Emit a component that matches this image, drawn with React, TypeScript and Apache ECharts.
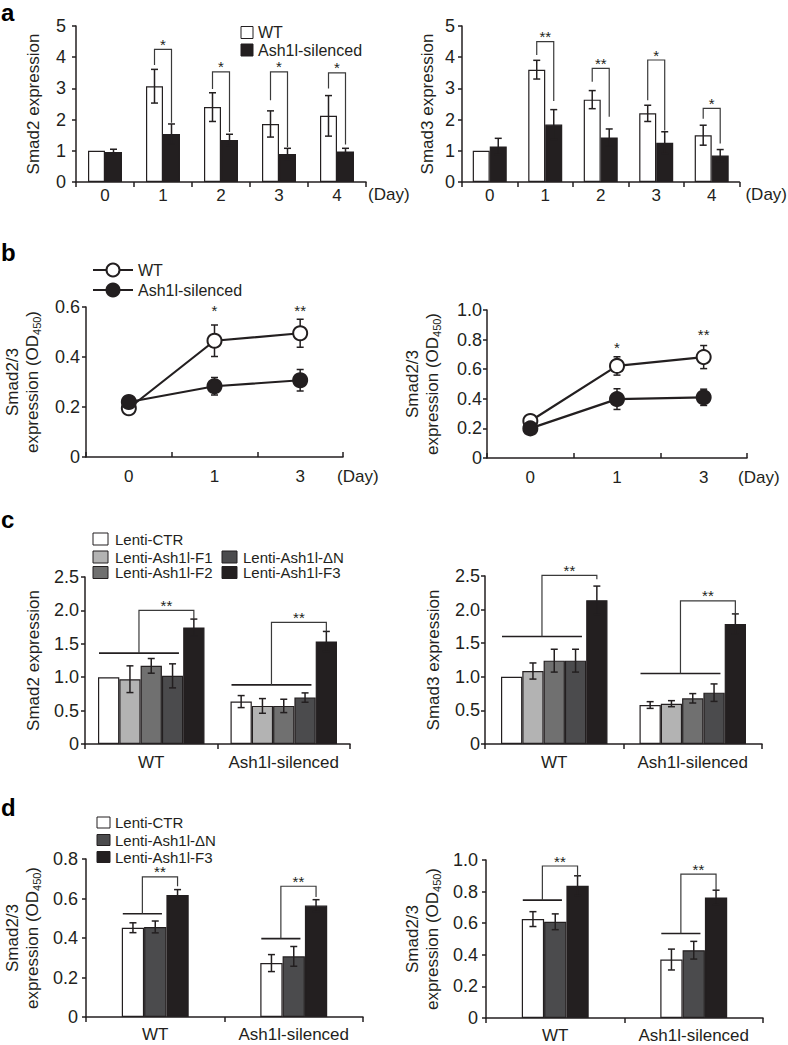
import React, { useEffect, useRef } from "react";
import * as echarts from "echarts";

const FONT = "'Liberation Sans', Arial, Helvetica, sans-serif";
const INK = "#231f20";

// ---------- Panel a ----------
const dayCats = ["0", "1", "2", "3", "4"];
const aGroups = ["WT", "Ash1l-silenced"];
const aColors = ["#ffffff", INK];
const smad2WT = [1.0, 3.07, 2.4, 1.86, 2.12];
const smad2WTErr = [0, 0.54, 0.46, 0.42, 0.65];
const smad2Sil = [0.96, 1.54, 1.35, 0.9, 0.98];
const smad2SilErr = [0.09, 0.32, 0.18, 0.18, 0.1];
// [day index, bracket top, left leg end, right leg end]
const smad2Sig = [
  [1, 4.25, 3.75, 1.9],
  [2, 3.53, 2.98, 1.6],
  [3, 3.53, 2.62, 1.12],
  [4, 3.5, 3.0, 1.2],
];
const smad2Stars = ["*", "*", "*", "*"];

const smad3WT = [1.0, 3.6, 2.64, 2.2, 1.5];
const smad3WTErr = [0, 0.3, 0.29, 0.26, 0.32];
const smad3Sil = [1.14, 1.84, 1.43, 1.26, 0.85];
const smad3SilErr = [0.26, 0.48, 0.27, 0.35, 0.19];
const smad3Sig = [
  [1, 4.5, 4.07, 2.6],
  [2, 3.64, 3.21, 2.09],
  [3, 3.91, 2.62, 1.65],
  [4, 2.36, 2.03, 1.23],
];
const smad3Stars = ["**", "**", "*", "*"];

// ---------- Panel b ----------
const bCats = ["0", "1", "3"];
const bLeftWT = [0.195, 0.465, 0.495];
const bLeftWTErr = [0, 0.063, 0.056];
const bLeftSil = [0.22, 0.283, 0.307];
const bLeftSilErr = [0, 0.035, 0.043];
const bLeftStarPos = [
  [1, 0.585],
  [2, 0.585],
];
const bLeftStars = ["*", "**"];
const bRightWT = [0.25, 0.622, 0.682];
const bRightWTErr = [0, 0.062, 0.078];
const bRightSil = [0.2, 0.398, 0.41];
const bRightSilErr = [0, 0.07, 0.055];
const bRightStarPos = [
  [1, 0.75],
  [2, 0.835],
];
const bRightStars = ["*", "**"];

// ---------- Panel c ----------
const groupCats = ["WT", "Ash1l-silenced"];
const cNames = ["Lenti-CTR", "Lenti-Ash1l-F1", "Lenti-Ash1l-F2", "Lenti-Ash1l-ΔN", "Lenti-Ash1l-F3"];
const cColors = ["#ffffff", "#b3b3b3", "#707070", "#4b4b4d", INK];
// each row: one construct, values for [WT, Ash1l-silenced]
const cSmad2 = [
  [1.0, 0.635],
  [0.97, 0.57],
  [1.17, 0.57],
  [1.02, 0.695],
  [1.745, 1.535],
];
const cSmad2Err = [
  [0, 0.09],
  [0.2, 0.11],
  [0.11, 0.1],
  [0.18, 0.07],
  [0.125, 0.15],
];
// [group index, control line, bracket top, right leg end]
const cSmad2Sig = [
  [0, 1.36, 2.0, 1.87],
  [1, 0.885, 1.82, 1.685],
];
const cSmad3 = [
  [1.0, 0.58],
  [1.086, 0.6],
  [1.24, 0.68],
  [1.24, 0.764],
  [2.14, 1.786],
];
const cSmad3Err = [
  [0, 0.05],
  [0.12, 0.045],
  [0.17, 0.07],
  [0.17, 0.13],
  [0.21, 0.15],
];
const cSmad3Sig = [
  [0, 1.6, 2.51, 2.45],
  [1, 1.05, 2.13, 1.93],
];
const cStars = ["**", "**"];

// ---------- Panel d ----------
const dNames = ["Lenti-CTR", "Lenti-Ash1l-ΔN", "Lenti-Ash1l-F3"];
const dColors = ["#ffffff", "#4b4b4d", INK];
const dLeft = [
  [0.452, 0.273],
  [0.456, 0.307],
  [0.618, 0.564],
];
const dLeftErr = [
  [0.025, 0.043],
  [0.03, 0.05],
  [0.027, 0.03],
];
const dLeftSig = [
  [0, 0.523, 0.709, 0.662],
  [1, 0.397, 0.662, 0.608],
];
const dRight = [
  [0.626, 0.37],
  [0.609, 0.429],
  [0.837, 0.763],
];
const dRightErr = [
  [0.047, 0.066],
  [0.05, 0.056],
  [0.063, 0.046],
];
const dRightSig = [
  [0, 0.746, 0.962, 0.9],
  [1, 0.535, 0.911, 0.81],
];
const dStars = ["**", "**"];

// ---------- helpers ----------
const txt = (size: number) => ({ color: INK, fontFamily: FONT, fontSize: size });

function catX(gi: number, data: string[], o: any) {
  return {
    type: "category",
    gridIndex: gi,
    data,
    axisLine: { lineStyle: { color: INK, width: 1.5 } },
    axisTick: { show: true, length: 5, inside: !!o.inside, lineStyle: { color: INK, width: 1.5 } },
    axisLabel: { ...txt(o.labelSize ?? 17), margin: o.margin, interval: 0 },
    name: o.name,
    nameLocation: "end",
    nameGap: o.nameGap ?? 4,
    nameTextStyle: { ...txt(17), verticalAlign: "top", padding: [o.namePad ?? 0, 0, 0, 0] },
  };
}

function valY(gi: number, max: number, interval: number, name: string, nameGap: number, margin: number, fmt: (v: number) => string) {
  return {
    type: "value",
    gridIndex: gi,
    min: 0,
    max,
    interval,
    axisLine: { show: true, lineStyle: { color: INK, width: 1.5 } },
    axisTick: { show: true, length: 4, lineStyle: { color: INK, width: 1.5 } },
    splitLine: { show: false },
    axisLabel: { ...txt(18), margin, formatter: fmt },
    name,
    nameLocation: "middle",
    nameGap,
    nameRotate: 90,
    nameTextStyle: {
      ...txt(17),
      lineHeight: 20,
      rich: { sub: { fontSize: 11, fontFamily: FONT, color: INK, verticalAlign: "bottom", lineHeight: 12 } },
    },
  };
}

const fmtInt = (v: number) => String(v);
const fmt1 = (v: number) => (v === 0 ? "0" : v.toFixed(1));

function bar(gi: number, name: string, data: number[], color: string, bw: number) {
  return {
    type: "bar",
    name,
    xAxisIndex: gi,
    yAxisIndex: gi,
    data,
    barWidth: bw,
    barGap: "0%",
    itemStyle: { color, borderColor: INK, borderWidth: 1.2 },
    z: 2,
  };
}

function errBars(gi: number, vals: number[], errs: number[], k: number, n: number, bw: number, capW: number) {
  return {
    type: "custom",
    xAxisIndex: gi,
    yAxisIndex: gi,
    z: 3,
    silent: true,
    data: vals.map((v, i) => [i, v, errs[i]]),
    renderItem: (params: any, api: any) => {
      const i = api.value(0);
      const v = api.value(1);
      const e = api.value(2);
      if (!(e > 0)) return { type: "group", children: [] };
      const x = api.coord([i, v])[0] + (k - (n - 1) / 2) * bw;
      const yT = api.coord([i, v + e])[1];
      const yB = api.coord([i, v - e])[1];
      const st = { stroke: INK, lineWidth: 1.5 };
      return {
        type: "group",
        children: [
          { type: "line", shape: { x1: x, y1: yT, x2: x, y2: yB }, style: st },
          { type: "line", shape: { x1: x - capW, y1: yT, x2: x + capW, y2: yT }, style: st },
          { type: "line", shape: { x1: x - capW, y1: yB, x2: x + capW, y2: yB }, style: st },
        ],
      };
    },
  };
}

function starText(x: number, y: number, text: string) {
  return {
    type: "text",
    x,
    y,
    style: { text, fill: INK, font: `15px ${FONT}`, textAlign: "center", textVerticalAlign: "middle" },
  };
}

function pairSig(gi: number, sig: number[][], labels: string[], bw: number) {
  return {
    type: "custom",
    xAxisIndex: gi,
    yAxisIndex: gi,
    z: 4,
    silent: true,
    data: sig,
    renderItem: (params: any, api: any) => {
      const i = api.value(0);
      const [cx, yt] = api.coord([i, api.value(1)]);
      const yl = api.coord([i, api.value(2)])[1];
      const yr = api.coord([i, api.value(3)])[1];
      const xl = cx - bw / 2;
      const xr = cx + bw / 2;
      return {
        type: "group",
        children: [
          {
            type: "polyline",
            shape: { points: [[xl, yl], [xl, yt], [xr, yt], [xr, yr]] },
            style: { stroke: "#3a3a3a", lineWidth: 1.2, fill: "none" },
          },
          starText((xl + xr) / 2, yt - 5, labels[params.dataIndex]),
        ],
      };
    },
  };
}

function groupSig(gi: number, sig: number[][], labels: string[], n: number, bw: number) {
  return {
    type: "custom",
    xAxisIndex: gi,
    yAxisIndex: gi,
    z: 4,
    silent: true,
    data: sig,
    renderItem: (params: any, api: any) => {
      const i = api.value(0);
      const [cx, yLine] = api.coord([i, api.value(1)]);
      const yt = api.coord([i, api.value(2)])[1];
      const yr = api.coord([i, api.value(3)])[1];
      const center = (k: number) => cx + (k - (n - 1) / 2) * bw;
      const xs = cx - (n * bw) / 2 + 1;
      const xe = center(n - 2) + 0.3 * bw;
      const xm = (xs + xe) / 2;
      const xr = center(n - 1);
      return {
        type: "group",
        children: [
          { type: "line", shape: { x1: xs, y1: yLine, x2: xe, y2: yLine }, style: { stroke: INK, lineWidth: 1.6 } },
          {
            type: "polyline",
            shape: { points: [[xm, yLine], [xm, yt], [xr, yt], [xr, yr]] },
            style: { stroke: "#3a3a3a", lineWidth: 1.2, fill: "none" },
          },
          starText((xm + xr) / 2, yt - 5, labels[params.dataIndex]),
        ],
      };
    },
  };
}

function lineSeries(gi: number, name: string, data: number[], filled: boolean) {
  return {
    type: "line",
    name,
    xAxisIndex: gi,
    yAxisIndex: gi,
    data,
    symbol: "circle",
    symbolSize: 14,
    z: 4,
    lineStyle: { color: INK, width: 2.2 },
    itemStyle: { color: filled ? INK : "#ffffff", borderColor: INK, borderWidth: 2 },
  };
}

function starSeries(gi: number, pos: number[][], labels: string[]) {
  return {
    type: "custom",
    xAxisIndex: gi,
    yAxisIndex: gi,
    z: 5,
    silent: true,
    data: pos,
    renderItem: (params: any, api: any) => {
      const [x, y] = api.coord([api.value(0), api.value(1)]);
      return starText(x, y, labels[params.dataIndex]);
    },
  };
}

function legendBox(x: number, y: number, w: number, h: number, color: string, label: string, size: number, gap: number) {
  return [
    { type: "rect", shape: { x, y: y - h / 2, width: w, height: h }, style: { fill: color, stroke: INK, lineWidth: 1 } },
    {
      type: "text",
      x: x + w + gap,
      y,
      style: { text: label, fill: INK, font: `${size}px ${FONT}`, textVerticalAlign: "middle" },
    },
  ];
}

function legendLine(x: number, y: number, filled: boolean, label: string) {
  return [
    { type: "line", shape: { x1: x, y1: y, x2: x + 40, y2: y }, style: { stroke: INK, lineWidth: 2 } },
    { type: "circle", shape: { cx: x + 20, cy: y, r: 6.5 }, style: { fill: filled ? INK : "#ffffff", stroke: INK, lineWidth: 2 } },
    { type: "text", x: x + 45, y, style: { text: label, fill: INK, font: `16px ${FONT}`, textVerticalAlign: "middle" } },
  ];
}

function panelLetter(x: number, y: number, t: string) {
  return { type: "text", x, y, style: { text: t, fill: "#000", font: `bold 24px ${FONT}`, textVerticalAlign: "middle" } };
}

function buildOption() {
  const grid = [
    { left: 76, top: 26, width: 290, height: 156 },
    { left: 462, top: 26, width: 293, height: 156 },
    { left: 86, top: 307, width: 257, height: 150 },
    { left: 487, top: 310, width: 260, height: 148 },
    { left: 85, top: 577, width: 265, height: 167 },
    { left: 485, top: 576, width: 277, height: 168 },
    { left: 86, top: 859, width: 277, height: 158 },
    { left: 486, top: 860, width: 277, height: 158 },
  ];
  const odName = "Smad2/3\nexpression (OD{sub|450})";
  const xAxis = [
    catX(0, dayCats, { margin: 5, name: "(Day)", nameGap: 2, namePad: 4 }),
    catX(1, dayCats, { margin: 5, name: "(Day)", nameGap: 6, namePad: 4 }),
    catX(2, bCats, { margin: 11, inside: true, name: "(Day)", nameGap: -6, namePad: 11 }),
    catX(3, bCats, { margin: 11, inside: true, name: "(Day)", nameGap: -9, namePad: 11 }),
    catX(4, groupCats, { margin: 10 }),
    catX(5, groupCats, { margin: 10 }),
    catX(6, groupCats, { margin: 9 }),
    catX(7, groupCats, { margin: 9 }),
  ];
  const yAxis = [
    valY(0, 5, 1, "Smad2 expression", 33, 10, fmtInt),
    valY(1, 5, 1, "Smad3 expression", 25, 7, fmtInt),
    valY(2, 0.6, 0.2, odName, 44, 6, fmt1),
    valY(3, 1.0, 0.2, odName, 45, 5, fmt1),
    valY(4, 2.5, 0.5, "Smad2 expression", 42, 6, fmt1),
    valY(5, 2.5, 0.5, "Smad3 expression", 42, 5, fmt1),
    valY(6, 0.8, 0.2, odName, 44, 8, fmt1),
    valY(7, 1.0, 0.2, odName, 44, 8, fmt1),
  ];

  const series: any[] = [];
  // a
  const aBW = 17;
  series.push(bar(0, aGroups[0], smad2WT, aColors[0], aBW), bar(0, aGroups[1], smad2Sil, aColors[1], aBW));
  series.push(errBars(0, smad2WT, smad2WTErr, 0, 2, aBW, 3.5), errBars(0, smad2Sil, smad2SilErr, 1, 2, aBW, 3.5));
  series.push(pairSig(0, smad2Sig, smad2Stars, aBW));
  series.push(bar(1, aGroups[0], smad3WT, aColors[0], aBW), bar(1, aGroups[1], smad3Sil, aColors[1], aBW));
  series.push(errBars(1, smad3WT, smad3WTErr, 0, 2, aBW, 3.5), errBars(1, smad3Sil, smad3SilErr, 1, 2, aBW, 3.5));
  series.push(pairSig(1, smad3Sig, smad3Stars, aBW));
  // b
  series.push(errBars(2, bLeftWT, bLeftWTErr, 0, 1, 0, 3.5), errBars(2, bLeftSil, bLeftSilErr, 0, 1, 0, 3.5));
  series.push(lineSeries(2, "WT", bLeftWT, false), lineSeries(2, "Ash1l-silenced", bLeftSil, true));
  series.push(starSeries(2, bLeftStarPos, bLeftStars));
  series.push(errBars(3, bRightWT, bRightWTErr, 0, 1, 0, 3.5), errBars(3, bRightSil, bRightSilErr, 0, 1, 0, 3.5));
  series.push(lineSeries(3, "WT", bRightWT, false), lineSeries(3, "Ash1l-silenced", bRightSil, true));
  series.push(starSeries(3, bRightStarPos, bRightStars));
  // c
  const cBW = 21.3;
  cNames.forEach((nm, k) => {
    series.push(bar(4, nm, cSmad2[k], cColors[k], cBW));
    series.push(errBars(4, cSmad2[k], cSmad2Err[k], k, 5, cBW, 3.5));
    series.push(bar(5, nm, cSmad3[k], cColors[k], cBW));
    series.push(errBars(5, cSmad3[k], cSmad3Err[k], k, 5, cBW, 3.5));
  });
  series.push(groupSig(4, cSmad2Sig, cStars, 5, cBW), groupSig(5, cSmad3Sig, cStars, 5, cBW));
  // d
  const dBW = 22.3;
  dNames.forEach((nm, k) => {
    series.push(bar(6, nm, dLeft[k], dColors[k], dBW));
    series.push(errBars(6, dLeft[k], dLeftErr[k], k, 3, dBW, 3.5));
    series.push(bar(7, nm, dRight[k], dColors[k], dBW));
    series.push(errBars(7, dRight[k], dRightErr[k], k, 3, dBW, 3.5));
  });
  series.push(groupSig(6, dLeftSig, dStars, 3, dBW), groupSig(7, dRightSig, dStars, 3, dBW));

  const elements: any[] = [
    panelLetter(1, 12, "a"),
    panelLetter(1, 252, "b"),
    panelLetter(1, 519, "c"),
    panelLetter(1, 807, "d"),
    ...legendBox(241, 32.5, 12, 12, aColors[0], aGroups[0], 16, 5),
    ...legendBox(241, 50, 12, 12, aColors[1], aGroups[1], 16, 5),
    ...legendLine(93, 270, false, "WT"),
    ...legendLine(93, 290, true, "Ash1l-silenced"),
    ...legendBox(93, 539, 15, 12, cColors[0], cNames[0], 15, 7),
    ...legendBox(93, 557, 15, 12, cColors[1], cNames[1], 15, 7),
    ...legendBox(93, 572.5, 15, 12, cColors[2], cNames[2], 15, 7),
    ...legendBox(222, 557, 15, 12, cColors[3], cNames[3], 15, 6),
    ...legendBox(222, 572.5, 15, 12, cColors[4], cNames[4], 15, 6),
    ...legendBox(97, 822.5, 13, 11, dColors[0], dNames[0], 15, 5),
    ...legendBox(97, 840, 13, 11, dColors[1], dNames[1], 15, 5),
    ...legendBox(97, 857, 13, 11, dColors[2], dNames[2], 15, 5),
  ];

  return {
    animation: false,
    backgroundColor: "#ffffff",
    textStyle: { fontFamily: FONT },
    grid,
    xAxis,
    yAxis,
    series,
    graphic: { elements },
  };
}

export default function App() {
  const ref = useRef<HTMLDivElement>(null);
  useEffect(() => {
    document.body.style.margin = "0";
    const chart = echarts.init(ref.current as HTMLDivElement, undefined, { renderer: "svg" });
    chart.setOption(buildOption() as any);
    return () => chart.dispose();
  }, []);
  return <div ref={ref} style={{ width: 788, height: 1045, background: "#fff" }} />;
}
